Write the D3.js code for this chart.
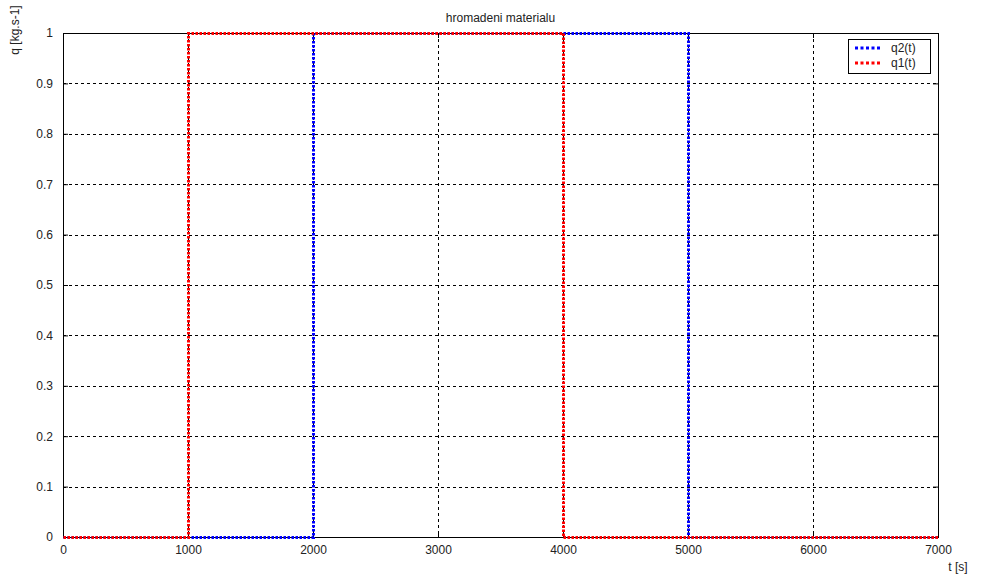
<!DOCTYPE html>
<html>
<head>
<meta charset="utf-8">
<script src="https://cdn.jsdelivr.net/npm/d3@7"></script>
<style>
  html, body { margin: 0; padding: 0; background: #fff; }
  svg text { font-family: "Liberation Sans", Arial, sans-serif; fill: #222; }
</style>
</head>
<body>
<svg id="chart" width="992" height="577"></svg>
<script>
// Step inputs (time in s, flow in kg/s)
const q2Time = [0, 2000, 2000, 5000, 5000, 7000];
const q2Flow = [0, 0, 1, 1, 0, 0];
const q1Time = [0, 1000, 1000, 4000, 4000, 7000];
const q1Flow = [0, 0, 1, 1, 0, 0];
const xTicks = [0, 1000, 2000, 3000, 4000, 5000, 6000, 7000];
const yTicks = [0, 0.1, 0.2, 0.3, 0.4, 0.5, 0.6, 0.7, 0.8, 0.9, 1];
const seriesNames = ["q2(t)", "q1(t)"];
const seriesColors = ["#0000ff", "#ff0000"];

const svg = d3.select("#chart");
const plotLeft = 63, plotRight = 938, plotTop = 33, plotBottom = 537;

const x = d3.scaleLinear().domain([0, 7000]).range([plotLeft, plotRight]);
const y = d3.scaleLinear().domain([0, 1]).range([plotBottom, plotTop]);

// grid
const grid = svg.append("g").attr("stroke", "#000").attr("stroke-width", 1)
  .attr("stroke-dasharray", "3,3").attr("shape-rendering", "crispEdges");
xTicks.slice(1, -1).forEach(t => grid.append("line")
  .attr("x1", Math.round(x(t)) + 0.5).attr("x2", Math.round(x(t)) + 0.5)
  .attr("y1", plotTop).attr("y2", plotBottom));
yTicks.slice(1, -1).forEach(t => grid.append("line")
  .attr("y1", Math.round(y(t)) + 0.5).attr("y2", Math.round(y(t)) + 0.5)
  .attr("x1", plotLeft).attr("x2", plotRight));

// frame
svg.append("rect").attr("x", plotLeft + 0.5).attr("y", plotTop + 0.5)
  .attr("width", plotRight - plotLeft).attr("height", plotBottom - plotTop)
  .attr("fill", "none").attr("stroke", "#000").attr("shape-rendering", "crispEdges");

// axes with inward ticks
const xAxis = d3.axisBottom(x).tickValues(xTicks).tickSize(-5).tickPadding(10).tickFormat(d3.format("d"));
const gx = svg.append("g").attr("transform", `translate(0,${plotBottom})`).call(xAxis);
gx.select(".domain").remove();
gx.selectAll("text").attr("font-size", 12).attr("dy", "0.55em");
gx.selectAll("line").attr("stroke", "#000");

const gxTop = svg.append("g").attr("transform", `translate(0,${plotTop})`)
  .call(d3.axisTop(x).tickValues(xTicks).tickSize(-5).tickFormat(""));
gxTop.select(".domain").remove();

const yAxis = d3.axisLeft(y).tickValues(yTicks).tickSize(-5).tickPadding(10).tickFormat(d3.format("~g"));
const gy = svg.append("g").attr("transform", `translate(${plotLeft},0)`).call(yAxis);
gy.select(".domain").remove();
gy.selectAll("text").attr("font-size", 12);
gy.selectAll("line").attr("stroke", "#000");

const gyR = svg.append("g").attr("transform", `translate(${plotRight},0)`)
  .call(d3.axisRight(y).tickValues(yTicks).tickSize(-5).tickFormat(""));
gyR.select(".domain").remove();

// series (dotted steps, q1 drawn over q2)
const line = d3.line().x(d => Math.round(x(d[0])) + 0.5).y(d => Math.round(y(d[1])) + 0.5);
const series = [
  { name: seriesNames[0], color: seriesColors[0], pts: q2Time.map((t, i) => [t, q2Flow[i]]) },
  { name: seriesNames[1], color: seriesColors[1], pts: q1Time.map((t, i) => [t, q1Flow[i]]) }
];
series.forEach(s => svg.append("path").datum(s.pts).attr("d", line)
  .attr("fill", "none").attr("stroke", s.color).attr("stroke-width", 3)
  .attr("stroke-dasharray", "2.5,1.5"));

// labels
svg.append("text").attr("x", (plotLeft + plotRight) / 2).attr("y", 22).attr("text-anchor", "middle")
  .attr("font-size", 12).text("hromadeni materialu");
svg.append("text").attr("x", 958).attr("y", 571).attr("text-anchor", "middle")
  .attr("font-size", 12).text("t [s]");
svg.append("text").attr("transform", "translate(19,30) rotate(-90)").attr("text-anchor", "middle")
  .attr("font-size", 12).text("q [kg.s-1]");

// legend
const lg = svg.append("g");
lg.append("rect").attr("x", 848.5).attr("y", 39.5).attr("width", 82).attr("height", 34)
  .attr("fill", "#fff").attr("stroke", "#000").attr("shape-rendering", "crispEdges");
series.forEach((s, i) => {
  const yy = 48 + i * 15;
  lg.append("line").attr("x1", 855).attr("x2", 880).attr("y1", yy).attr("y2", yy)
    .attr("stroke", s.color).attr("stroke-width", 3).attr("stroke-dasharray", "3,2.5");
  lg.append("text").attr("x", 891).attr("y", yy + 4).attr("font-size", 12).text(s.name);
});
</script>
</body>
</html>
